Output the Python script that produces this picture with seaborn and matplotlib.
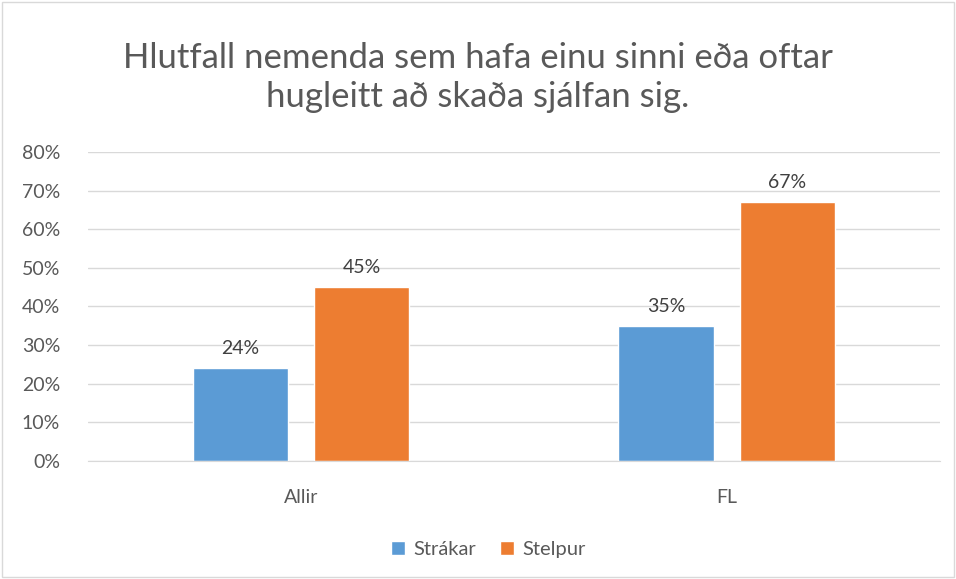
import pandas as pd
import matplotlib.pyplot as plt
import seaborn as sns
from matplotlib.patches import Rectangle

categories = ['Allir', 'FL']
groups = ['Strákar', 'Stelpur']
strakar = [24, 35]
stelpur = [45, 67]
title = 'Hlutfall nemenda sem hafa einu sinni eða oftar\nhugleitt að skaða sjálfan sig.'

df = pd.DataFrame({
    'flokkur': categories * 2,
    'hopur': [groups[0]] * 2 + [groups[1]] * 2,
    'gildi': strakar + stelpur,
})

sns.set_style('white')
plt.rcParams['font.family'] = ['Lato', 'DejaVu Sans']

fig = plt.figure(figsize=(9.56, 5.79), dpi=100)
ax = fig.add_axes([0.092, 0.204, 0.891, 0.5335])
sns.barplot(data=df, x='flokkur', y='gildi', hue='hopur', order=categories,
            hue_order=groups, palette=['#5B9BD5', '#ED7D31'],
            width=0.57, gap=0.215, ax=ax, saturation=1, legend=True)

for cont in ax.containers:
    ax.bar_label(cont, labels=[f'{v:.0f}%' for v in cont.datavalues],
                 padding=8, fontsize=14, color='#404040')

ax.set_ylim(0, 80)
ax.set_xlim(-0.5, 1.5)
ax.set_yticks(range(0, 81, 10))
ax.set_yticklabels([f'{t}%' for t in range(0, 81, 10)])
ax.yaxis.grid(True, color='#D9D9D9', linewidth=1)
ax.set_axisbelow(True)
for s in ['top', 'right', 'left']:
    ax.spines[s].set_visible(False)
ax.spines['bottom'].set_color('#D9D9D9')
ax.tick_params(axis='both', length=0, labelsize=14, colors='#595959')
ax.tick_params(axis='y', pad=20)
ax.tick_params(axis='x', pad=20)
ax.set_xlabel('')
ax.set_ylabel('')

ax.legend(loc='upper center', bbox_to_anchor=(0.47, -0.2), ncol=2, frameon=False,
          fontsize=14.5, handlelength=0.7, handleheight=0.7, handletextpad=0.4,
          columnspacing=1.2, labelcolor='#595959')

fig.text(0.5, 0.866, title, ha='center', va='center', fontsize=25,
         color='#595959', linespacing=1.25)

fig.patches.append(Rectangle((0.002, 0.003), 0.996, 0.994, transform=fig.transFigure,
                             fill=False, edgecolor='#D9D9D9', linewidth=1))

fig.savefig('out.png', dpi=100)
